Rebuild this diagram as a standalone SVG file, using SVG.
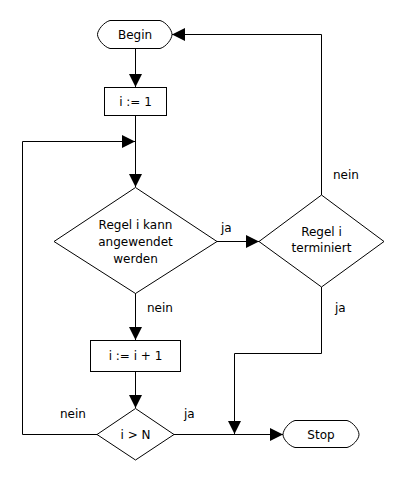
<svg xmlns="http://www.w3.org/2000/svg" width="400" height="480" viewBox="0 0 400 480">
<defs>
<style>
.s{fill:#fff;stroke:#000;stroke-width:1}
.c{fill:none;stroke:#000;stroke-width:1}
text{font-family:"DejaVu Sans","Noto Sans",sans-serif;font-size:12px;fill:#000}
.m{text-anchor:middle}
</style>
<marker id="a" markerWidth="13" markerHeight="13" refX="13" refY="6.5" orient="auto" markerUnits="userSpaceOnUse">
<path d="M0,0 L13,6.5 L0,13 Z" fill="#000"/>
</marker>
</defs>
<rect width="400" height="480" fill="#fff"/>
<g id="connectors">
<path class="c" d="M135.5,48 V87" marker-end="url(#a)"/>
<path class="c" d="M135.5,115 V187"  marker-end="url(#a)"/>
<path class="c" d="M97,434.5 H22.5 V141.5 H135" marker-end="url(#a)"/>
<path class="c" d="M217,241.5 H259" marker-end="url(#a)"/>
<path class="c" d="M321.5,195 V34.5 H172" marker-end="url(#a)"/>
<path class="c" d="M135.5,293 V340" marker-end="url(#a)"/>
<path class="c" d="M135.5,372 V408" marker-end="url(#a)"/>
<path class="c" d="M321.5,287 V353.5 H234.5 V434" marker-end="url(#a)"/>
<path class="c" d="M174,434.5 H283" marker-end="url(#a)"/>
<text x="221" y="232">ja</text>
<text x="333" y="179">nein</text>
<text x="147" y="312">nein</text>
<text x="335" y="312">ja</text>
<text x="60" y="418">nein</text>
<text x="184" y="418">ja</text>
</g>
<g id="begin">
<path class="s" d="M110,20.5 H160 C166,22 172,30 172,34.5 C172,39 166,47 160,48.5 H110 C104,47 97.5,39 97.5,34.5 C97.5,30 104,22 110,20.5 Z"/>
<text class="m" x="135" y="39">Begin</text>
</g>
<g id="init">
<rect class="s" x="104.5" y="87.5" width="62" height="28"/>
<text class="m" x="135.5" y="106">i := 1</text>
</g>
<g id="cond1">
<path class="s" d="M135.5,187.5 L217,241.5 L135.5,293.5 L54,241.5 Z"/>
<text class="m" x="135.5" y="229">Regel i kann</text>
<text class="m" x="135.5" y="246">angewendet</text>
<text class="m" x="135.5" y="263">werden</text>
</g>
<g id="cond2">
<path class="s" d="M321.5,195 L384,241.5 L321.5,287 L259,241.5 Z"/>
<text class="m" x="321.5" y="236">Regel i</text>
<text class="m" x="321.5" y="252">terminiert</text>
</g>
<g id="incr">
<rect class="s" x="90.5" y="340.5" width="90" height="31"/>
<text class="m" x="135.5" y="360">i := i + 1</text>
</g>
<g id="cond3">
<path class="s" d="M135.5,408.5 L174,434.5 L135.5,460 L97,434.5 Z"/>
<text class="m" x="135.5" y="439">i &gt; N</text>
</g>
<g id="stop">
<path class="s" d="M295,420.5 H347 C353,422 359,430 359,434.5 C359,439 353,446 347,447.5 H295 C289,446 283,439 283,434.5 C283,430 289,422 295,420.5 Z"/>
<text class="m" x="321" y="439">Stop</text>
</g>
</svg>
